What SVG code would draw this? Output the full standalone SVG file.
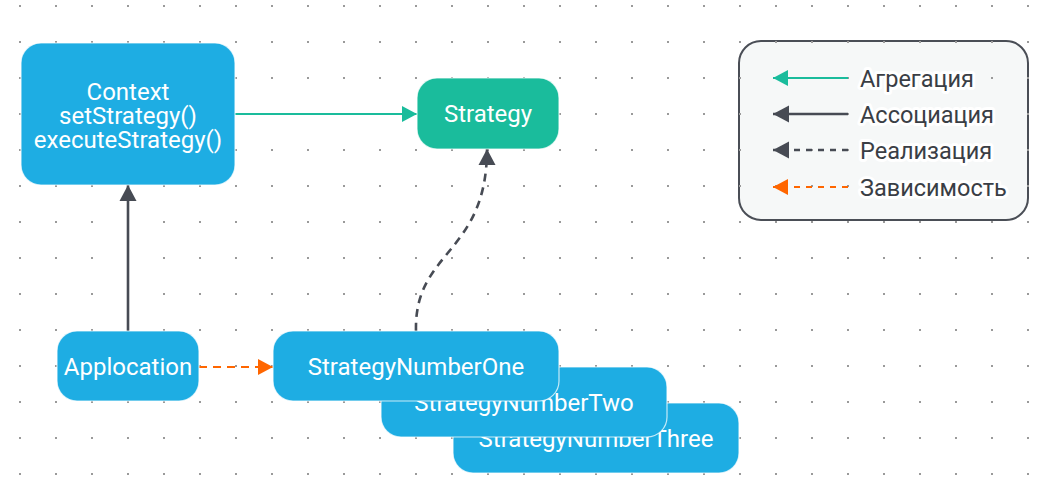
<svg xmlns="http://www.w3.org/2000/svg" width="1039" height="492" viewBox="0 0 1039 492">
<style>
.node{stroke:#ffffff;stroke-opacity:0.75;stroke-width:1.2}
.blue{fill:#1eade3}
.green{fill:#1abc9c}
.lbl{font-family:Roboto,"Liberation Sans",sans-serif;font-size:24px;fill:#ffffff;text-anchor:middle;dominant-baseline:central}
.leg{font-family:Roboto,"Liberation Sans",sans-serif;font-size:23.5px;fill:#3a3e45;dominant-baseline:central;stroke:#ffffff;stroke-width:6;stroke-linejoin:round;paint-order:stroke}
.e{fill:none}
</style>
<defs>
<pattern id="dots" x="0" y="0" width="36" height="36" patternUnits="userSpaceOnUse">
<rect x="19" y="5" width="2" height="2" fill="#9a9a9a"/>
</pattern>
<marker id="mGreen" markerUnits="userSpaceOnUse" markerWidth="16" markerHeight="16" refX="15" refY="8" orient="auto"><path d="M0,0 L15,8 L0,16 Z" fill="#1abc9c"/></marker>
<marker id="mDark" markerUnits="userSpaceOnUse" markerWidth="17" markerHeight="18" refX="16" refY="9" orient="auto"><path d="M0,0.5 L16,9 L0,17.5 Z" fill="#474b54"/></marker>
<marker id="mOrange" markerUnits="userSpaceOnUse" markerWidth="16" markerHeight="16" refX="15" refY="8" orient="auto"><path d="M0,0 L15,8 L0,16 Z" fill="#ff6600"/></marker>
</defs>
<rect width="1039" height="492" fill="#ffffff"/>
<g id="legend-box"><rect x="739" y="41" width="289" height="179" rx="22" fill="#f6f8f8" stroke="#4a4e56" stroke-width="2"/></g>
<rect width="1039" height="492" fill="url(#dots)"/>
<g id="connectors">
<path class="e" d="M235,114 L417,114" stroke="#1abc9c" stroke-width="2.2" marker-end="url(#mGreen)"/>
<path class="e" d="M128,331 L128,185" stroke="#474b54" stroke-width="2.6" marker-end="url(#mDark)"/>
<path class="e" d="M199,367 L273,367" stroke="#ff6600" stroke-width="2.2" stroke-dasharray="8,6" marker-end="url(#mOrange)"/>
<path class="e" d="M416,331 C414,250 487,255 487,149" stroke="#474b54" stroke-width="2.6" stroke-dasharray="8,6" marker-end="url(#mDark)"/>
</g>
<g id="context"><rect class="node blue" x="21" y="43" width="214" height="142" rx="20"/>
<text class="lbl" x="128" y="92">Context</text>
<text class="lbl" x="128" y="116">setStrategy()</text>
<text class="lbl" x="128" y="140">executeStrategy()</text></g>
<g id="strategy"><rect class="node green" x="417" y="78" width="142" height="71" rx="20"/>
<text class="lbl" x="488" y="114">Strategy</text></g>
<g id="applocation"><rect class="node blue" x="57" y="331" width="142" height="70" rx="20"/>
<text class="lbl" x="128" y="367">Applocation</text></g>
<g id="strategy-three"><rect class="node blue" x="453" y="403" width="286" height="70" rx="20"/>
<text class="lbl" x="596" y="439">StrategyNumberThree</text></g>
<g id="strategy-two"><rect class="node blue" x="381" y="367" width="286" height="70" rx="20"/>
<text class="lbl" x="524" y="403">StrategyNumberTwo</text></g>
<g id="strategy-one"><rect class="node blue" x="273" y="331" width="286" height="70" rx="20"/>
<text class="lbl" x="416" y="367">StrategyNumberOne</text></g>
<g id="legend">
<path class="e" d="M848,78 L773,78" stroke="#1abc9c" stroke-width="2.2" marker-end="url(#mGreen)"/>
<path class="e" d="M848,114 L773,114" stroke="#474b54" stroke-width="2.6" marker-end="url(#mDark)"/>
<path class="e" d="M848,150 L773,150" stroke="#474b54" stroke-width="2.6" stroke-dasharray="6,6" marker-end="url(#mDark)"/>
<path class="e" d="M848,187 L773,187" stroke="#ff6600" stroke-width="2.2" stroke-dasharray="6,6" marker-end="url(#mOrange)"/>
<text class="leg" x="860" y="79">Агрегация</text>
<text class="leg" x="860" y="115">Ассоциация</text>
<text class="leg" x="860" y="151">Реализация</text>
<text class="leg" x="860" y="188">Зависимость</text>
</g>
</svg>
